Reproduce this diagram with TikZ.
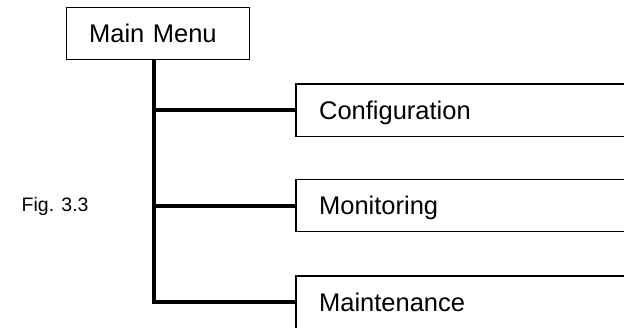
\documentclass[tikz,border=0pt]{standalone}
\usepackage{fontspec}
\setmainfont{Liberation Sans}
\usepackage{tikz}
\usetikzlibrary{positioning, calc}

\tikzset{
    menubox/.style={anchor=north west, inner xsep=22.5pt, line width=1.2pt,
        align=left, minimum height=51pt, text height=18.3pt, text depth=0pt,
        font=\fontsize{25.5}{30}\selectfont},
    boxline/.style={line width=1.2pt},
    conn/.style={line width=4pt}
}

\begin{document}
\begin{tikzpicture}[x=1pt, y=-1pt]
    \useasboundingbox (0,0) rectangle (624,328);
    \coordinate (edge) at (625,0);

    % Main menu box
    \node[menubox, draw, text width=138pt, minimum height=52pt] (main) at (66,7) {Main Menu};
    \coordinate (trunk) at ([xshift=-4.5pt]main.south);

    % Sub menu boxes (running off the right side)
    \foreach \name/\txt/\y in {conf/Configuration/84, mon/Monitoring/179.5, maint/Maintenance/276} {
        \node[menubox, text width=250pt] (\name) at (296,\y) {\txt};
        \draw[boxline] (\name.north west -| edge) -- (\name.north west)
            -- (\name.south west) -- (\name.south west -| edge);
    }

    % Tree lines
    \draw[conn] (trunk) |- (maint.west);
    \foreach \name in {conf, mon} {
        \draw[conn] (trunk |- \name.west) -- (\name.west);
    }

    % Figure label
    \node[anchor=west, inner sep=0pt, font=\fontsize{19.5}{24}\selectfont] (fig) at (21.5,206) {Fig. 3.3};
\end{tikzpicture}
\end{document}
